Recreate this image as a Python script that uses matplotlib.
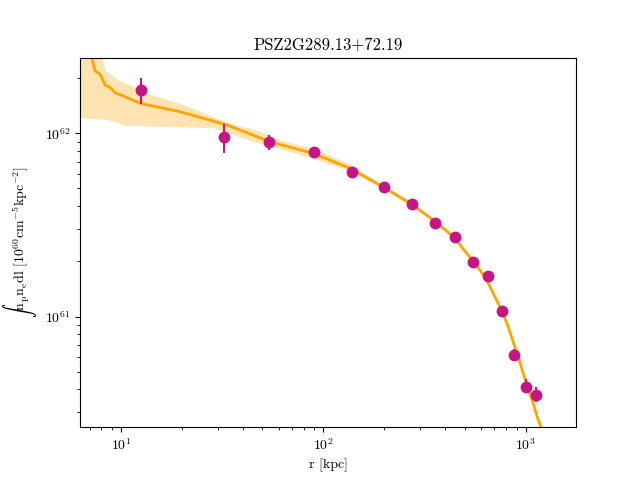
import matplotlib
matplotlib.use("Agg")
import matplotlib.pyplot as plt

plt.rcParams['font.family'] = 'serif'
plt.rcParams['font.serif'] = ['cmr10']
plt.rcParams['mathtext.fontset'] = 'cm'
plt.rcParams['axes.formatter.use_mathtext'] = True
plt.rcParams['axes.unicode_minus'] = False

# measured profile
r_data = [12.55, 32.3, 53.8, 90.1, 138.7, 199.5, 274, 356, 448, 549, 652, 764, 875, 1002, 1125]
y_data = [1.72e62, 9.55e61, 8.93e61, 7.87e61, 6.12e61, 5.07e61, 4.11e61, 3.24e61,
          2.71e61, 1.98e61, 1.66e61, 1.073e61, 6.15e60, 4.13e60, 3.72e60]
err_lo = [2.7e61, 1.72e61, 0.83e61, 0.5e61, 0.18e61, 0.14e61, 0.11e61, 0.09e61,
          0.08e61, 0.06e61, 0.05e61, 0.03e61, 0.41e60, 0.31e60, 0.32e60]
err_hi = [2.8e61, 1.65e61, 0.87e61, 0.5e61, 0.18e61, 0.14e61, 0.11e61, 0.09e61,
          0.08e61, 0.06e61, 0.05e61, 0.03e61, 0.49e60, 0.42e60, 0.41e60]

# best-fit model
r_model = [6.96, 7.17, 7.44, 7.88, 8.34, 8.82, 9.34, 10.26, 12.41, 19.56, 33.4, 54.4,
           88.7, 135.2, 199.5, 274, 356, 445.6, 490, 549, 592.7, 639.7, 703.1, 758.6,
           817.6, 865.5, 916.2, 969.8, 1026.6, 1086.5, 1137, 1186, 1241]
y_model = [2.94e62, 2.59e62, 2.19e62, 2.10e62, 1.834e62, 1.78e62, 1.665e62, 1.60e62,
           1.458e62, 1.312e62, 1.11e62, 9.0e61, 7.78e61, 6.44e61, 5.06e61, 4.09e61,
           3.31e61, 2.685e61, 2.338e61, 2.011e61, 1.796e61, 1.585e61, 1.284e61, 1.086e61,
           8.81e60, 7.30e60, 6.04e60, 4.91e60, 4.06e60, 3.37e60, 2.84e60, 2.51e60, 2.18e60]

# model uncertainty band
r_band = [6.13, 8.03, 8.34, 8.82, 9.70, 10.26, 11.08, 13.40, 19.56, 28.6, 34.5, 46.8,
          61.0, 88.7, 135.2, 165, 199.5, 274, 356, 445.6, 490, 549, 592.7, 703.1, 817.6,
          916.2, 1026.6, 1137, 1241]
band_hi = [3.66e62, 2.58e62, 2.21e62, 2.11e62, 1.95e62, 1.91e62, 1.834e62, 1.652e62,
           1.458e62, 1.232e62, 1.134e62, 1.042e62, 9.19e61, 8.28e61, 6.8e61, 5.9e61, 5.18e61,
           4.18e61, 3.38e61, 2.74e61, 2.385e61, 2.05e61, 1.83e61, 1.31e61, 8.98e60,
           6.16e60, 4.14e60, 2.95e60, 2.30e60]
band_lo = [1.216e62, 1.197e62, 1.192e62, 1.182e62, 1.138e62, 1.110e62, 1.103e62, 1.096e62,
           1.086e62, 1.073e62, 1.0e62, 8.9e61, 8.25e61, 7.3e61, 6.25e61, 5.55e61, 4.95e61,
           4.00e61, 3.24e61, 2.63e61, 2.29e61, 1.97e61, 1.76e61, 1.26e61, 8.64e60,
           5.92e60, 3.98e60, 2.76e60, 2.12e60]

fig, ax = plt.subplots(figsize=(6.4, 4.8), dpi=100)
ax.fill_between(r_band, band_lo, band_hi, color='orange', alpha=0.3, lw=0)
ax.plot(r_model, y_model, color='orange', lw=2)
ax.errorbar(r_data, y_data, yerr=[err_lo, err_hi], fmt='o', color='mediumvioletred',
            ms=7.5, elinewidth=1.5, capsize=0)
ax.set_xscale('log')
ax.set_yscale('log')
ax.set_xlim(6.27, 1770)
ax.set_ylim(2.49e60, 2.59e62)
ax.set_xlabel('r [kpc]')
ax.set_ylabel(r'$\int\mathrm{n_pn_edl}\ [10^{60}\mathrm{cm^{-5}kpc^{-2}}]$')
ax.set_title('PSZ2G289.13+72.19')
fig.savefig('out.png')
